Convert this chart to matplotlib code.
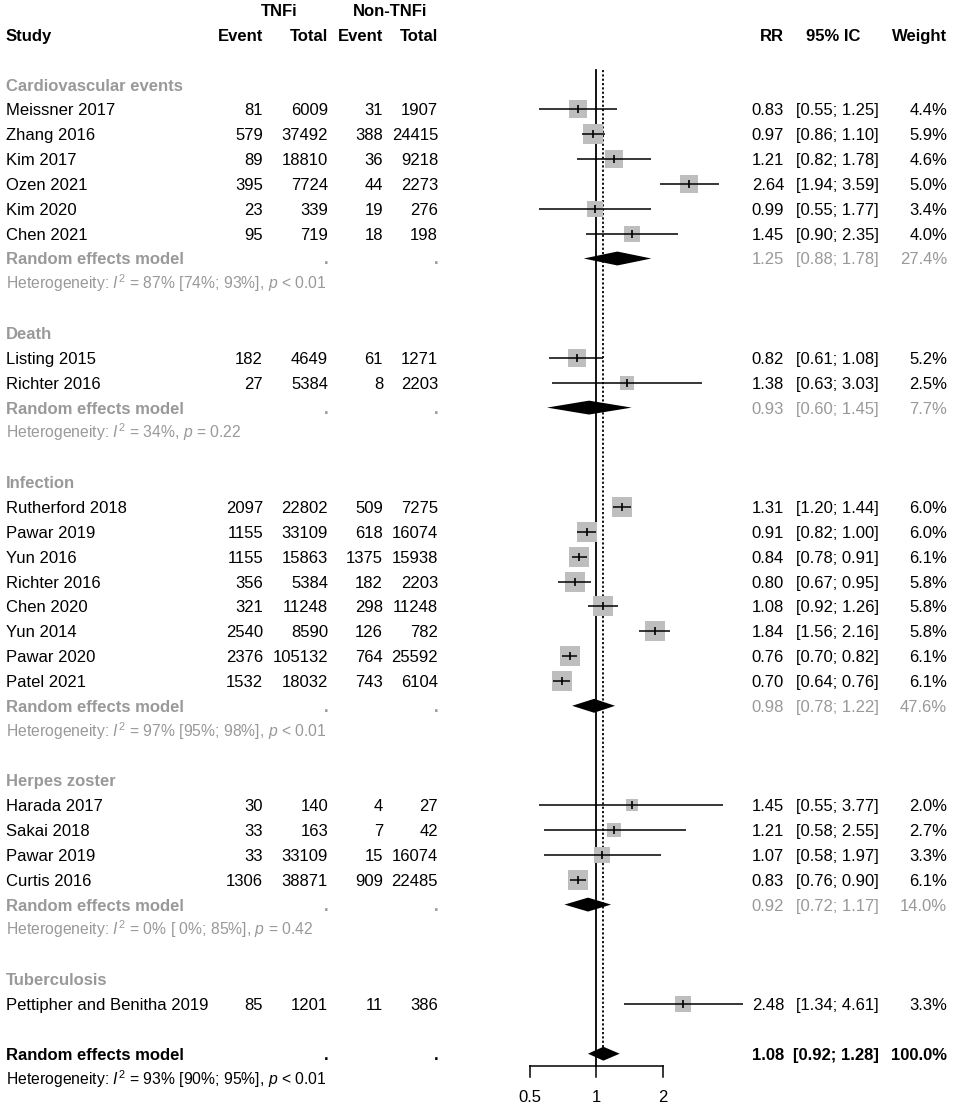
import numpy as np
import matplotlib
matplotlib.use("Agg")
import matplotlib.pyplot as plt

plt.rcParams['font.family'] = ['Liberation Sans', 'DejaVu Sans']
plt.rcParams['mathtext.fontset'] = 'custom'
plt.rcParams['mathtext.rm'] = 'Liberation Sans'
plt.rcParams['mathtext.it'] = 'Liberation Sans:italic'
plt.rcParams['mathtext.bf'] = 'Liberation Sans:bold'

# ---------------- data ----------------
groups = ["Cardiovascular events", "Death", "Infection", "Herpes zoster", "Tuberculosis"]

study_group = [0, 0, 0, 0, 0, 0,
               1, 1,
               2, 2, 2, 2, 2, 2, 2, 2,
               3, 3, 3, 3,
               4]
study_names = ["Meissner 2017", "Zhang 2016", "Kim 2017", "Ozen 2021", "Kim 2020", "Chen 2021",
               "Listing 2015", "Richter 2016",
               "Rutherford 2018", "Pawar 2019", "Yun 2016", "Richter 2016", "Chen 2020",
               "Yun 2014", "Pawar 2020", "Patel 2021",
               "Harada 2017", "Sakai 2018", "Pawar 2019", "Curtis 2016",
               "Pettipher and Benitha 2019"]
event_tnfi = [81, 579, 89, 395, 23, 95,
              182, 27,
              2097, 1155, 1155, 356, 321, 2540, 2376, 1532,
              30, 33, 33, 1306,
              85]
total_tnfi = [6009, 37492, 18810, 7724, 339, 719,
              4649, 5384,
              22802, 33109, 15863, 5384, 11248, 8590, 105132, 18032,
              140, 163, 33109, 38871,
              1201]
event_non = [31, 388, 36, 44, 19, 18,
             61, 8,
             509, 618, 1375, 182, 298, 126, 764, 743,
             4, 7, 15, 909,
             11]
total_non = [1907, 24415, 9218, 2273, 276, 198,
             1271, 2203,
             7275, 16074, 15938, 2203, 11248, 782, 25592, 6104,
             27, 42, 16074, 22485,
             386]
rr = [0.83, 0.97, 1.21, 2.64, 0.99, 1.45,
      0.82, 1.38,
      1.31, 0.91, 0.84, 0.80, 1.08, 1.84, 0.76, 0.70,
      1.45, 1.21, 1.07, 0.83,
      2.48]
rr_lo = [0.55, 0.86, 0.82, 1.94, 0.55, 0.90,
         0.61, 0.63,
         1.20, 0.82, 0.78, 0.67, 0.92, 1.56, 0.70, 0.64,
         0.55, 0.58, 0.58, 0.76,
         1.34]
rr_hi = [1.25, 1.10, 1.78, 3.59, 1.77, 2.35,
         1.08, 3.03,
         1.44, 1.00, 0.91, 0.95, 1.26, 2.16, 0.82, 0.76,
         3.77, 2.55, 1.97, 0.90,
         4.61]
weight = [4.4, 5.9, 4.6, 5.0, 3.4, 4.0,
          5.2, 2.5,
          6.0, 6.0, 6.1, 5.8, 5.8, 5.8, 6.1, 6.1,
          2.0, 2.7, 3.3, 6.1,
          3.3]

sub_rr = [1.25, 0.93, 0.98, 0.92, None]
sub_lo = [0.88, 0.60, 0.78, 0.72, None]
sub_hi = [1.78, 1.45, 1.22, 1.17, None]
sub_weight = [27.4, 7.7, 47.6, 14.0, None]
sub_het = ["87% [74%; 93%], $p$ < 0.01",
           "34%, $p$ = 0.22",
           "97% [95%; 98%], $p$ < 0.01",
           "0% [ 0%; 85%], $p$ = 0.42",
           None]

overall_rr, overall_lo, overall_hi, overall_weight = 1.08, 0.92, 1.28, 100.0
overall_het = "93% [90%; 95%], $p$ < 0.01"

tick_vals = [0.5, 1, 2]
tick_labels = ["0.5", "1", "2"]

# ---------------- layout ----------------
W, H = 955, 1110
ROW0, ROWH = 10.0, 24.85          # pixel y of row 0, row height in px
GREY_TXT = '#999999'
GREY_BOX = '#BEBEBE'
FS = 12
FS_HET = 11.3

fig = plt.figure(figsize=(W / 100, H / 100), dpi=100)
ylim = ((H - ROW0) / ROWH, -ROW0 / ROWH)

axt = fig.add_axes([0, 0, 1, 1])
axt.set_xlim(0, W)
axt.set_ylim(*ylim)
axt.axis('off')

# forest axes (log scale); px = 596 + 66.5*log2(x)
FL, FR = 500, 770
axf = fig.add_axes([FL / W, 0, (FR - FL) / W, 1])
axf.set_xscale('log')
axf.set_xlim(2 ** ((FL - 596) / 66.5), 2 ** ((FR - 596) / 66.5))
axf.set_ylim(*ylim)
axf.axis('off')
axf.patch.set_alpha(0)

X_NAME, X_EVT, X_TOTT, X_EVC, X_TOTC = 6, 263, 328, 383, 438
X_RR, X_CI, X_W = 784, 879, 947
BASE = 0.24  # baseline offset (rows) from visual center


def txt(x, row, s, ha='right', color='black', weight='normal', fs=FS):
    axt.text(x, row + BASE, s, ha=ha, va='baseline', color=color,
             fontweight=weight, fontsize=fs)


# headers
txt(279, 0, "TNFi", ha='center', weight='bold')
txt(390, 0, "Non-TNFi", ha='center', weight='bold')
txt(X_NAME, 1, "Study", ha='left', weight='bold')
for x, s in [(X_EVT, "Event"), (X_TOTT, "Total"), (X_EVC, "Event"), (X_TOTC, "Total"),
             (X_RR, "RR"), (X_W, "Weight")]:
    txt(x, 1, s, weight='bold')
txt(833, 1, "95% IC", ha='center', weight='bold')


def diamond(row, est, lo, hi, color='black'):
    h = 0.28
    axf.fill([lo, est, hi, est], [row, row - h, row, row + h], color=color,
             lw=0, zorder=4)


row = 3
for g, gname in enumerate(groups):
    txt(X_NAME, row, gname, ha='left', color=GREY_TXT, weight='bold')
    row += 1
    idx = [i for i, sg in enumerate(study_group) if sg == g]
    for i in idx:
        txt(X_NAME, row, study_names[i], ha='left')
        txt(X_EVT, row, str(event_tnfi[i]))
        txt(X_TOTT, row, str(total_tnfi[i]))
        txt(X_EVC, row, str(event_non[i]))
        txt(X_TOTC, row, str(total_non[i]))
        txt(X_RR, row, f"{rr[i]:.2f}")
        txt(X_CI, row, f"[{rr_lo[i]:.2f}; {rr_hi[i]:.2f}]")
        txt(X_W, row, f"{weight[i]:.1f}%")
        side_pt = 8.3 * np.sqrt(weight[i]) * 0.72
        axf.scatter([rr[i]], [row], s=side_pt ** 2, marker='s', color=GREY_BOX,
                    lw=0, zorder=2)
        axf.plot([rr_lo[i], rr_hi[i]], [row, row], color='black', lw=1.1,
                 solid_capstyle='butt', zorder=3)
        axf.plot([rr[i]], [row], marker='|', ms=6, mew=1.2, color='black', zorder=3)
        row += 1
    if sub_rr[g] is not None:
        txt(X_NAME, row, "Random effects model", ha='left', color=GREY_TXT, weight='bold')
        txt(X_TOTT, row, ".", color=GREY_TXT, weight='bold')
        txt(X_TOTC, row, ".", color=GREY_TXT, weight='bold')
        txt(X_RR, row, f"{sub_rr[g]:.2f}", color=GREY_TXT)
        txt(X_CI, row, f"[{sub_lo[g]:.2f}; {sub_hi[g]:.2f}]", color=GREY_TXT)
        txt(X_W, row, f"{sub_weight[g]:.1f}%", color=GREY_TXT)
        diamond(row, sub_rr[g], sub_lo[g], sub_hi[g])
        row += 1
        txt(X_NAME, row, "Heterogeneity: $I^2$ = " + sub_het[g], ha='left',
            color=GREY_TXT, fs=FS_HET)
        row += 1
    row += 1

# overall
txt(X_NAME, row, "Random effects model", ha='left', weight='bold')
txt(X_TOTT, row, ".", weight='bold')
txt(X_TOTC, row, ".", weight='bold')
txt(X_RR, row, f"{overall_rr:.2f}", weight='bold')
txt(X_CI, row, f"[{overall_lo:.2f}; {overall_hi:.2f}]", weight='bold')
txt(X_W, row, f"{overall_weight:.1f}%", weight='bold')
diamond(row, overall_rr, overall_lo, overall_hi)
overall_row = row
txt(X_NAME, row + 1, "Heterogeneity: $I^2$ = " + overall_het, ha='left', fs=FS_HET)

# reference lines
top = (70 - ROW0) / ROWH
axis_row = (1066 - ROW0) / ROWH
tick_row = (1077 - ROW0) / ROWH
label_row = (1098 - ROW0) / ROWH
axf.plot([1, 1], [top, axis_row], color='black', lw=1.3, zorder=1)
axf.plot([overall_rr, overall_rr], [top, overall_row], color='black', lw=1.3,
         ls=(0, (1.2, 1.2)), zorder=1)

# x axis
axf.plot([tick_vals[0], tick_vals[-1]], [axis_row, axis_row], color='black', lw=1.1)
for v, lab in zip(tick_vals, tick_labels):
    axf.plot([v, v], [axis_row, tick_row], color='black', lw=1.1)
    axf.text(v, label_row, lab, ha='center', va='center', fontsize=FS)

fig.savefig("out.png", dpi=100, facecolor='white')
